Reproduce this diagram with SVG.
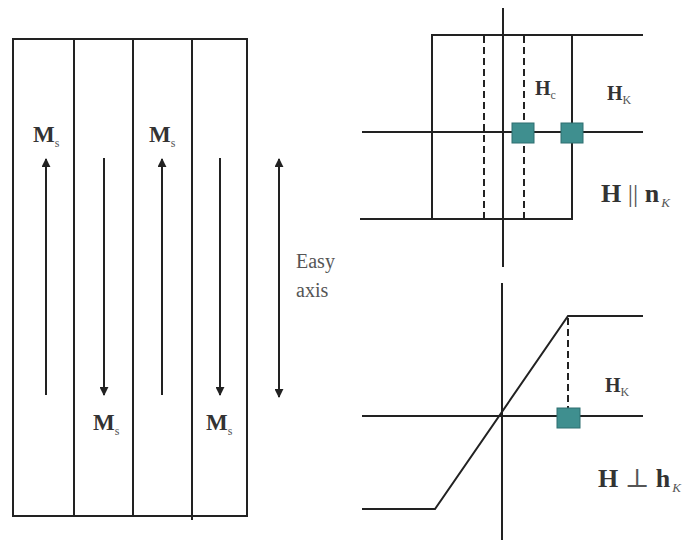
<svg xmlns="http://www.w3.org/2000/svg" width="686" height="540" viewBox="0 0 686 540">
<defs>
<style>
.ln{stroke:#222;stroke-width:2;fill:none}
.ds{stroke:#222;stroke-width:2;fill:none;stroke-dasharray:7,4}
.arr{stroke:#222;stroke-width:2;fill:none}
.sq{fill:#3f8f8f;stroke:#2f6f70;stroke-width:1}
.lb{font-weight:bold;fill:#333}
.sub{fill:#555;font-weight:normal}
.tx{fill:#555}
</style>
<marker id="ah" viewBox="0 0 10 10" refX="9" refY="5" markerWidth="4.5" markerHeight="4.5" orient="auto-start-reverse">
<path d="M0,0 L10,5 L0,10 z" fill="#222"/>
</marker>
</defs>
<rect width="686" height="540" fill="#fff"/>

<g id="domains">
<rect x="13" y="39" width="234" height="477" class="ln"/>
<line x1="74" y1="39" x2="74" y2="516" class="ln"/>
<line x1="133" y1="39" x2="133" y2="516" class="ln"/>
<line x1="192" y1="39" x2="192" y2="520" class="ln"/>
</g>

<g id="connectors">
<line x1="46" y1="395" x2="46" y2="159" class="arr" marker-end="url(#ah)"/>
<line x1="104" y1="158" x2="104" y2="395" class="arr" marker-end="url(#ah)"/>
<line x1="162" y1="395" x2="162" y2="159" class="arr" marker-end="url(#ah)"/>
<line x1="220" y1="158" x2="220" y2="395" class="arr" marker-end="url(#ah)"/>
<line x1="279" y1="159" x2="279" y2="397" class="arr" marker-start="url(#ah)" marker-end="url(#ah)"/>
</g>

<g id="texts" font-family="'Liberation Serif', 'DejaVu Serif', serif">
<g id="labels-ms">
<text x="33" y="142" class="lb" font-size="23">M<tspan class="sub" font-size="12" dy="5">s</tspan></text>
<text x="149" y="142" class="lb" font-size="23">M<tspan class="sub" font-size="12" dy="5">s</tspan></text>
<text x="93" y="430" class="lb" font-size="23">M<tspan class="sub" font-size="12" dy="5">s</tspan></text>
<text x="206" y="430" class="lb" font-size="23">M<tspan class="sub" font-size="12" dy="5">s</tspan></text>
</g>

<g id="easy-axis">
<text x="296" y="268" class="tx" font-size="20">Easy</text>
<text x="296" y="297" class="tx" font-size="20">axis</text>
</g>

<g id="hp-labels">
<text x="535" y="95" class="lb" font-size="20">H<tspan class="sub" font-size="12" dy="4">c</tspan></text>
<text x="607" y="100" class="lb" font-size="20">H<tspan class="sub" font-size="12" dy="4">K</tspan></text>
<text x="601" y="202" class="lb" font-size="26">H <tspan font-weight="normal" fill="#555">||</tspan> n<tspan class="sub" font-size="13" font-style="italic" dx="2" dy="5">K</tspan></text>
<text x="605" y="392" class="lb" font-size="20">H<tspan class="sub" font-size="12" dy="4">K</tspan></text>
<text x="598" y="487" class="lb" font-size="26">H <tspan font-weight="normal" fill="#555">⊥</tspan> h<tspan class="sub" font-size="13" font-style="italic" dx="2" dy="5">K</tspan></text>
</g>
</g>

<g id="hysteresis-parallel">
<line x1="503" y1="8" x2="503" y2="267" class="ln"/>
<line x1="362" y1="132" x2="643" y2="132" class="ln"/>
<polyline points="643,35 432,35 432,219 360,219" class="ln"/>
<polyline points="432,219 572,219 572,35" class="ln"/>
<line x1="484" y1="36" x2="484" y2="218" class="ds"/>
<line x1="524" y1="36" x2="524" y2="218" class="ds"/>
<rect x="512" y="123" width="22" height="20" class="sq"/>
<rect x="561" y="123" width="22" height="20" class="sq"/>
</g>

<g id="hysteresis-perpendicular">
<line x1="502" y1="283" x2="502" y2="540" class="ln"/>
<line x1="362" y1="416" x2="643" y2="416" class="ln"/>
<polyline points="362,509 435,509 568,316 643,316" class="ln"/>
<line x1="568" y1="318" x2="568" y2="408" class="ds"/>
<rect x="557" y="408" width="23" height="20" class="sq"/>
</g>
</svg>
